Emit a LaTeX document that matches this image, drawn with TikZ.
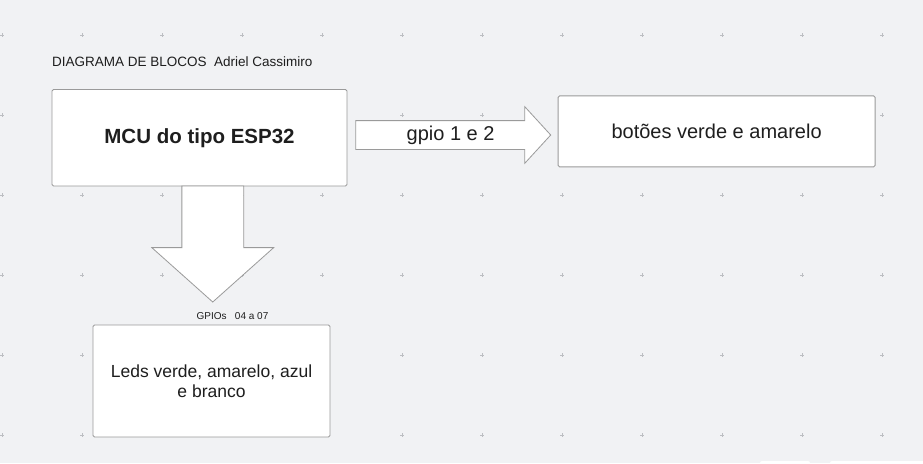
\documentclass[tikz,border=0pt]{standalone}
\usepackage{fontspec}
\setmainfont{Liberation Sans}
\usetikzlibrary{shapes.arrows}
\usepackage{xcolor}
\definecolor{boardbg}{HTML}{F1F2F4}
\definecolor{edgegray}{HTML}{9A9A9A}
\definecolor{inkgray}{HTML}{1E1E1E}
\definecolor{markgray}{HTML}{BCBEC2}

\begin{document}
\begin{tikzpicture}[x=1pt, y=-1pt,
    block/.style={draw=edgegray, line width=0.9pt, fill=white, rounded corners=1.5pt,
        inner sep=0pt, outer sep=0pt, text=inkgray, align=center},
    fatarrow/.style={single arrow, draw=edgegray, line width=0.8pt, fill=white,
        outer sep=0pt, text=inkgray},
    gridmark/.style={markgray, line width=0.5pt}]

\useasboundingbox (0,0) rectangle (923,463);
\fill[boardbg] (0,0) rectangle (923,463);

% grid marks of the board
\foreach \i in {0,...,11}
  \foreach \j in {0,...,5}
  {
    \draw[gridmark] (2+80*\i,35+80*\j) +(-1.8,0) -- +(1.8,0) +(0,-1.8) -- +(0,1.8);
  }

\node[anchor=base west, inner sep=0pt, text=inkgray,
      font=\fontsize{13.5}{16}\selectfont] (title) at (52,66)
  {DIAGRAMA DE BLOCOS\ \ Adriel Cassimiro};

% blocks
\node[block, minimum width=295, minimum height=96.5,
      font=\fontsize{20.5}{24}\selectfont\bfseries] (mcu) at (199.5,137.75)
  {MCU do tipo ESP32};

\node[block, minimum width=317, minimum height=71,
      font=\fontsize{20}{24}\selectfont] (btn) at (716.6,131.4)
  {bot\~oes verde e amarelo};

\node[block, minimum width=237, minimum height=112,
      font=\fontsize{17.5}{20.5}\selectfont] (leds) at (211.5,381)
  {Leds verde, amarelo, azul\\e branco};

% arrows
\node[fatarrow, anchor=tail, minimum height=195, minimum width=56,
      single arrow head extend=14, single arrow tip angle=95,
      inner xsep=0pt, inner ysep=5pt, text height=14pt, text depth=4pt,
      font=\fontsize{20}{22}\selectfont] (gpio)
  at (355.7,135) {\hspace*{8pt}gpio 1 e 2};

\node[fatarrow, anchor=tail, shape border rotate=270, minimum height=116,
      minimum width=121, single arrow head extend=30, single arrow tip angle=96.5,
      inner sep=30.5pt] (ledarrow)
  at ([xshift=13.25pt]mcu.south) {};

\node[anchor=base, inner sep=0pt, text=inkgray,
      font=\fontsize{10}{12}\selectfont] (gpiolabel) at (232.5,319)
  {GPIOs\ \ \ 04 a 07};

% bits of the board toolbar at the bottom edge
\fill[white, rounded corners=2pt] (760,461) rectangle (810,468);
\fill[white, rounded corners=2pt] (830,461) rectangle (930,468);

\end{tikzpicture}
\end{document}
